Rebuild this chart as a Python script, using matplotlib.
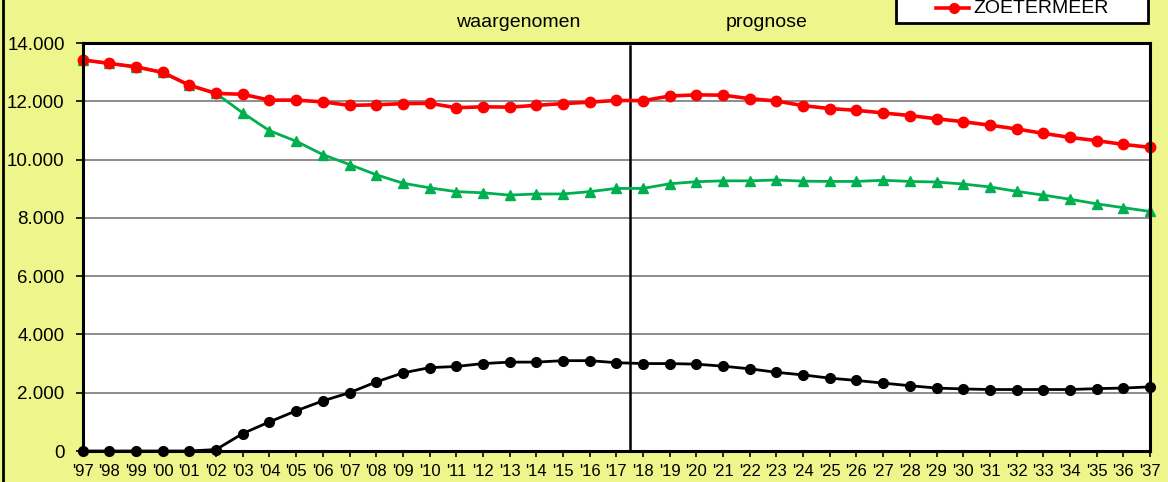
import matplotlib
matplotlib.use("Agg")
import matplotlib.pyplot as plt
from matplotlib.lines import Line2D
from matplotlib.patches import Rectangle

# ---- data ----
year_labels = [f"'{y % 100:02d}" for y in range(1997, 2038)]
zoetermeer = [13420, 13300, 13180, 12990, 12550, 12270, 12240, 12040, 12040, 11980,
              11860, 11880, 11920, 11930, 11780, 11810, 11800, 11860, 11920, 11970,
              12030, 12020, 12180, 12220, 12210, 12090, 12010, 11850, 11750, 11690,
              11600, 11510, 11400, 11300, 11180, 11050, 10900, 10760, 10650, 10520, 10420]
green_series = [13420, 13300, 13180, 12990, 12550, 12270, 11600, 10990, 10630, 10170,
                9830, 9480, 9190, 9030, 8900, 8860, 8780, 8820, 8820, 8900,
                9010, 9010, 9170, 9240, 9270, 9270, 9300, 9260, 9250, 9250,
                9290, 9250, 9230, 9160, 9060, 8910, 8780, 8640, 8480, 8350, 8220]
black_series = [0, 0, 0, 0, 0, 50, 600, 1000, 1380, 1720,
                2000, 2370, 2680, 2860, 2900, 3000, 3050, 3050, 3100, 3100,
                3030, 3000, 3000, 2980, 2910, 2820, 2700, 2610, 2500, 2420,
                2330, 2240, 2160, 2130, 2110, 2110, 2110, 2110, 2140, 2160, 2200]
y_ticks = [0, 2000, 4000, 6000, 8000, 10000, 12000, 14000]
split_after = "'17"
legend_label = "ZOETERMEER"
left_text = "waargenomen"
right_text = "prognose"

W, H = 1168, 482
BG = "#EEF58A"
font = "Liberation Sans"

fig = plt.figure(figsize=(W / 100, H / 100), dpi=100, facecolor=BG)
ax = fig.add_axes([82.7 / W, 1 - 451 / H, (1150 - 82.7) / W, (451 - 43) / H])
ax.set_facecolor("white")

x = list(range(len(year_labels)))

ax.plot(x, black_series, color="black", lw=2.0, marker="o", ms=7, zorder=3, clip_on=False)
ax.plot(x, green_series, color="#00B050", lw=2.0, marker="^", ms=7.5, zorder=4, clip_on=False)
ax.plot(x, zoetermeer, color="#FF0000", lw=2.6, marker="o", ms=7.5, zorder=5, clip_on=False)

ax.set_xlim(0, len(year_labels) - 1)
ax.set_ylim(0, 14000)
ax.set_xticks(x)
ax.set_xticklabels(year_labels, fontsize=12, family=font)
ax.set_yticks(y_ticks)
ax.set_yticklabels([f"{v:,}".replace(",", ".") for v in y_ticks], fontsize=13.5, family=font)
ax.tick_params(axis="x", length=4, width=1.2, pad=5, direction="out")
ax.tick_params(axis="y", length=5, width=1.2, pad=8, direction="out")

ax.grid(axis="y", color="#8C8C8C", lw=1.4, zorder=0)
ax.set_axisbelow(True)
for s in ax.spines.values():
    s.set_color("black")
    s.set_linewidth(2.2)
    s.set_zorder(6)

# split line between observed and forecast
split_x = year_labels.index(split_after) + 0.5
ax.axvline(split_x, ymin=0, ymax=0.993, color="black", lw=1.8, zorder=2)

# annotations above plot
fig.text(518 / W, 1 - 22.7 / H, left_text, ha="center", va="center", fontsize=14, family=font)
fig.text(766.7 / W, 1 - 22.7 / H, right_text, ha="center", va="center", fontsize=14, family=font)

# legend box (clipped at top of figure)
lx0, lx1, ly1 = 895.7, 1147.7, 23.3
fig.patches.append(Rectangle((lx0 / W, 1 - ly1 / H), (lx1 - lx0) / W, ly1 / H + 0.05,
                             transform=fig.transFigure, facecolor="white",
                             edgecolor="black", lw=2.0, zorder=1))
fig.lines.append(Line2D([936 / W, 969 / W], [1 - 8.3 / H, 1 - 8.3 / H], transform=fig.transFigure,
                        color="#FF0000", lw=2.6, zorder=2))
fig.lines.append(Line2D([954 / W], [1 - 8.3 / H], transform=fig.transFigure, color="#FF0000",
                        marker="o", ms=7, zorder=3))
fig.text(973 / W, 1 - 8.8 / H, legend_label, ha="left", va="center", fontsize=14, family=font)

# outer chart-area border on the left
fig.lines.append(Line2D([3 / W, 3 / W], [0, 1], transform=fig.transFigure, color="black", lw=2.0))

fig.savefig("out.png", dpi=100, facecolor=BG)
